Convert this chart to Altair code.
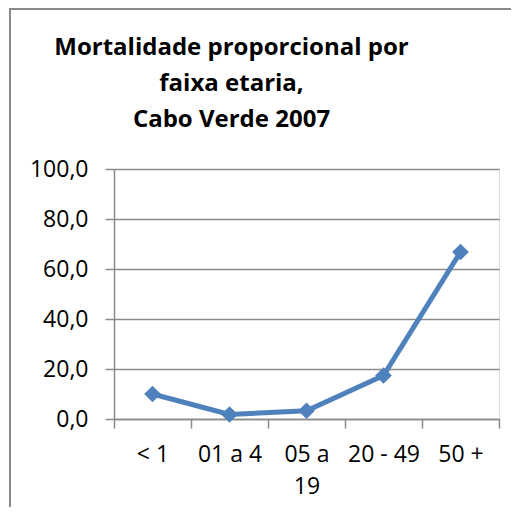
import altair as alt
import pandas as pd

categories = ["< 1", "01 a 4", "05 a 19", "20 - 49", "50 +"]
values = [10.0, 1.8, 3.3, 17.4, 66.8]

df = pd.DataFrame({"faixa": categories, "valor": values})

FONT = "Open Sans"
GRAY = "#8a8a8a"
BLUE = "#4F81BD"

x = alt.X(
    "faixa:N",
    sort=categories,
    scale=alt.Scale(paddingInner=0, paddingOuter=0),
    axis=alt.Axis(
        title=None,
        labelAngle=0,
        tickBand="extent",
        grid=False,
        domainColor=GRAY,
        domainWidth=1.5,
        tickColor=GRAY,
        tickWidth=1.5,
        tickSize=9,
        labelPadding=15,
        labelFont=FONT,
        labelFontSize=23,
        labelColor="#000000",
        labelLineHeight=32,
        labelBaseline="top",
        labelExpr="datum.label == '05 a 19' ? ['05 a', '19'] : datum.label",
    ),
)
y = alt.Y(
    "valor:Q",
    scale=alt.Scale(domain=[0, 100], nice=False),
    axis=alt.Axis(
        title=None,
        values=[0, 20, 40, 60, 80, 100],
        labelExpr="replace(format(datum.value, '.1f'), '.', ',')",
        grid=True,
        gridColor=GRAY,
        gridWidth=1.5,
        domainColor=GRAY,
        domainWidth=1.5,
        tickColor=GRAY,
        tickWidth=1.5,
        tickSize=9,
        labelPadding=17,
        labelFont=FONT,
        labelFontSize=23,
        labelColor="#000000",
    ),
)

line = alt.Chart(df).mark_line(color=BLUE, strokeWidth=5).encode(x=x, y=y)
points = alt.Chart(df).mark_point(
    shape="diamond", filled=True, color=BLUE, size=280, opacity=1
).encode(x=x, y=y)

frame_v = alt.Chart(df).mark_rule(color=GRAY, strokeWidth=2).encode(
    x=alt.value(-104), y=alt.value(-160), y2=alt.value(400)
)
frame_h = alt.Chart(df).mark_rule(color=GRAY, strokeWidth=2).encode(
    x=alt.value(-105), x2=alt.value(420), y=alt.value(-160), y2=alt.value(-160)
)

chart = (
    alt.layer(frame_v, frame_h, line, points)
    .properties(
        width=385,
        height=250,
        autosize=alt.AutoSizeParams(type="none"),
        padding={"left": 106, "top": 161, "right": 12, "bottom": 88},
        title=alt.TitleParams(
            text=["Mortalidade proporcional por", "faixa etaria,", "Cabo Verde 2007"],
            font=FONT,
            fontSize=24,
            fontWeight="bold",
            color="#000000",
            anchor="middle",
            frame="group",
            dx=-75,
            dy=148,
            offset=0,
            lineHeight=36,
            baseline="bottom",
        ),
    )
    .configure_view(stroke=None)
    .configure(background="white")
)

chart.save("out.html", embed_options={"renderer": "svg", "actions": False})
